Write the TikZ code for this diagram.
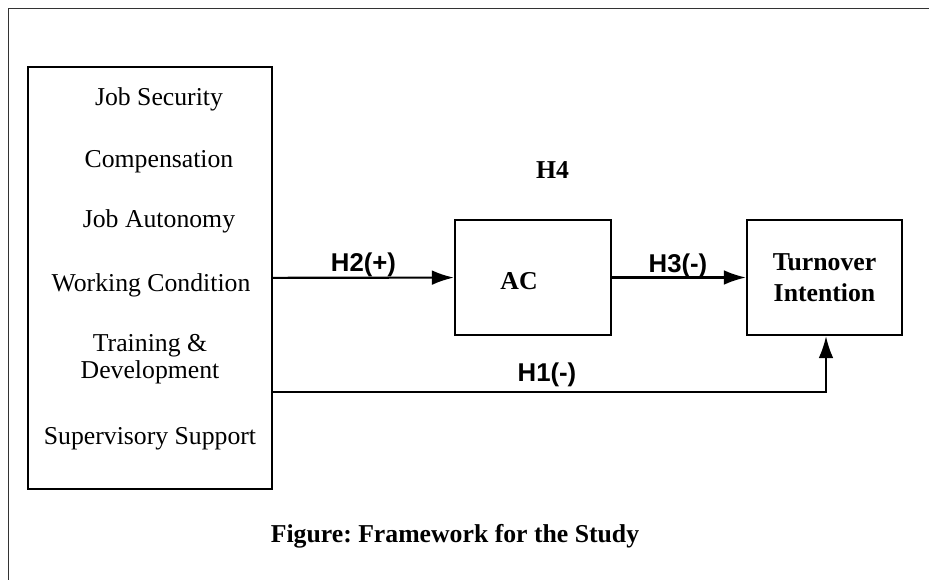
\documentclass[tikz,border=0pt]{standalone}
\usepackage{fontspec}
\setmainfont{Liberation Serif}
\setsansfont{Liberation Sans}
\usetikzlibrary{positioning,calc,arrows.meta}
\frenchspacing

\begin{document}
\begin{tikzpicture}[x=0.75pt,y=-0.75pt,>={Latex[length=16.5pt,width=11pt]},
  every node/.style={font=\fontsize{19.3}{20.3}\selectfont,inner sep=0pt},
  box/.style={draw,line width=1.6pt,inner sep=0pt},
  link/.style={->,line width=1.6pt},
  hyp/.style={font=\fontsize{19.3}{23}\selectfont\sffamily\bfseries,anchor=base},
  factor/.style={anchor=base,align=center}]
\useasboundingbox (0,0) rectangle (929,580);
\draw[black!80,line width=0.8pt] (8.5,580) -- (8.5,8.5) -- (929,8.5);

% left block with the factors
\node[box,minimum width=183pt,minimum height=316.5pt] (factors) at (150,278) {};
\node[factor] (sec) at (159,105.5) {Job Security};
\node[factor] (comp) at (159,168) {Compensation};
\node[factor] (auto) at (159,228) {Job Autonomy};
\node[factor] (cond) at (151,292) {Working Condition};
\node[factor] (train) at (150,379) {Training \&\\Development};
\node[factor] (sup) at (150,445) {Supervisory Support};

% mediator and outcome
\node[box,minimum width=117pt,minimum height=86.25pt] (ac) at (533,277.5) {};
\node[anchor=base,font=\fontsize{19.3}{23}\selectfont\bfseries] (aclabel) at (519,290) {AC};
\node[box,minimum width=116.25pt,minimum height=86.25pt,align=center,
  font=\fontsize{19.3}{23}\selectfont\bfseries] (turnover) at (824.5,277.5) {Turnover\\Intention};

\draw[link] (factors) -- (ac);
\draw[link] (ac) -- (turnover);
\coordinate (h1) at (826,392);
\draw[link] (h1 -| factors.east) -- (h1) -- (h1 |- turnover.south);

\node[hyp] (h2) at (363.5,272) {H2(+)};
\node[hyp] (h3) at (678,273) {H3(-)};
\node[hyp] (h1label) at (547,381.5) {H1(-)};
\node[anchor=base,font=\fontsize{19.3}{23}\selectfont\bfseries] (h4) at (552.5,179) {H4};

\node[anchor=base,font=\fontsize{19.3}{23}\selectfont\bfseries] (caption) at (455,543) {Figure: Framework for the Study};
\end{tikzpicture}
\end{document}
